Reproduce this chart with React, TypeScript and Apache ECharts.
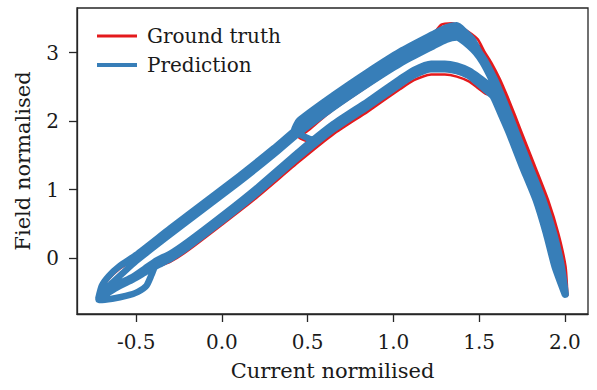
import React, { useEffect, useRef } from "react";
import * as echarts from "echarts";

type P = [number, number];

// Ground truth cycles (current, field)
const truthCycle1: P[] = [
  [0.51, 1.7], [0.45, 1.76], [0.5, 1.86], [0.65, 2.17], [0.85, 2.51], [1.04, 2.83], [1.16, 3.08], [1.23, 3.26], [1.28, 3.41], [1.34, 3.43], [1.39, 3.38],
  [1.49, 3.2], [1.53, 3.02], [1.57, 2.86], [1.62, 2.62], [1.665, 2.36], [1.71, 2.08], [1.75, 1.82], [1.826, 1.34], [1.902, 0.85], [1.962, 0.36], [2.004, -0.12], [2.015, -0.54],
  [1.957, -0.12], [1.907, 0.36], [1.847, 0.85], [1.767, 1.34], [1.69, 1.82], [1.645, 2.08], [1.595, 2.36],
  [1.54, 2.4], [1.49, 2.49], [1.44, 2.58], [1.37, 2.65], [1.3, 2.68], [1.22, 2.68], [1.12, 2.6], [1.04, 2.47], [0.85, 2.14], [0.65, 1.81], [0.45, 1.41], [0.2, 0.88], [0.0, 0.49], [-0.2, 0.11], [-0.3, -0.05], [-0.38, -0.13],
  [-0.45, -0.2], [-0.52, -0.3], [-0.6, -0.4], [-0.66, -0.48], [-0.71, -0.57],
];
const truthCycle2: P[] = [
  [-0.72, -0.59], [-0.7, -0.44], [-0.66, -0.3], [-0.6, -0.16], [-0.5, 0.01], [-0.3, 0.4], [-0.1, 0.78], [0.1, 1.16], [0.3, 1.56], [0.45, 1.88], [0.65, 2.25], [0.85, 2.59], [1.04, 2.89], [1.23, 3.14], [1.31, 3.26], [1.37, 3.32], [1.41, 3.28],
  [1.48, 3.15], [1.52, 3.02], [1.56, 2.86], [1.61, 2.62], [1.655, 2.36], [1.7, 2.08], [1.74, 1.82], [1.816, 1.34], [1.894, 0.85], [1.955, 0.36], [1.998, -0.12], [2.01, -0.53],
  [1.95, -0.12], [1.9, 0.36], [1.84, 0.85], [1.76, 1.34], [1.685, 1.82], [1.64, 2.08], [1.59, 2.36],
  [1.545, 2.44], [1.5, 2.54], [1.44, 2.64], [1.37, 2.71], [1.3, 2.74], [1.22, 2.74], [1.12, 2.65], [1.04, 2.52], [0.85, 2.18], [0.65, 1.85], [0.45, 1.45], [0.2, 0.91], [0.0, 0.51], [-0.2, 0.13], [-0.3, -0.03], [-0.38, -0.12],
  [-0.41, -0.26], [-0.44, -0.41], [-0.49, -0.5], [-0.56, -0.56], [-0.64, -0.6], [-0.71, -0.62],
];

// Prediction cycles
const predCycle1: P[] = [
  [0.53, 1.72], [0.47, 1.79], [0.42, 1.86], [0.45, 2.01], [0.65, 2.38], [0.85, 2.72], [1.04, 3.02], [1.23, 3.27], [1.31, 3.37], [1.37, 3.4], [1.42, 3.3],
  [1.46, 3.2], [1.5, 3.02], [1.54, 2.86], [1.59, 2.62], [1.635, 2.36], [1.68, 2.08], [1.72, 1.82], [1.796, 1.34], [1.874, 0.85], [1.937, 0.36], [1.982, -0.12], [2.005, -0.52],
  [1.96, -0.12], [1.91, 0.36], [1.85, 0.85], [1.77, 1.34], [1.695, 1.82], [1.65, 2.08], [1.6, 2.36],
  [1.55, 2.54], [1.5, 2.64], [1.44, 2.74], [1.37, 2.81], [1.3, 2.84], [1.22, 2.84], [1.12, 2.75], [1.04, 2.62], [0.85, 2.29], [0.65, 1.96], [0.45, 1.56], [0.2, 1.02], [0.0, 0.62], [-0.2, 0.24], [-0.3, 0.07], [-0.38, -0.03],
  [-0.45, -0.15], [-0.52, -0.27], [-0.6, -0.37], [-0.66, -0.46], [-0.71, -0.55],
];
const predCycle2: P[] = [
  [-0.72, -0.58], [-0.7, -0.4], [-0.66, -0.26], [-0.6, -0.12], [-0.5, 0.05], [-0.3, 0.44], [-0.1, 0.82], [0.1, 1.2], [0.3, 1.6], [0.45, 1.92], [0.65, 2.29], [0.85, 2.63], [1.04, 2.93], [1.23, 3.18], [1.31, 3.28], [1.37, 3.31], [1.41, 3.25],
  [1.45, 3.2], [1.49, 3.02], [1.53, 2.86], [1.58, 2.62], [1.625, 2.36], [1.67, 2.08], [1.71, 1.82], [1.786, 1.34], [1.864, 0.85], [1.927, 0.36], [1.975, -0.12], [2.003, -0.53],
  [1.95, -0.12], [1.9, 0.36], [1.84, 0.85], [1.76, 1.34], [1.685, 1.82], [1.64, 2.08], [1.59, 2.36],
  [1.55, 2.5], [1.5, 2.6], [1.44, 2.7], [1.37, 2.77], [1.3, 2.8], [1.22, 2.8], [1.12, 2.71], [1.04, 2.58], [0.85, 2.25], [0.65, 1.92], [0.45, 1.52], [0.2, 0.98], [0.0, 0.58], [-0.2, 0.2], [-0.3, 0.03], [-0.38, -0.07],
  [-0.41, -0.24], [-0.44, -0.4], [-0.49, -0.49], [-0.56, -0.55], [-0.64, -0.59], [-0.71, -0.61],
];
const predCycle3: P[] = [
  [-0.72, -0.6], [-0.69, -0.48], [-0.64, -0.36], [-0.58, -0.22], [-0.5, -0.04], [-0.3, 0.35], [-0.1, 0.73], [0.1, 1.11], [0.3, 1.51], [0.45, 1.83], [0.65, 2.2], [0.85, 2.54], [1.04, 2.84], [1.23, 3.09], [1.31, 3.19], [1.37, 3.22], [1.4, 3.18],
  [1.44, 3.1], [1.48, 3.0], [1.52, 2.86], [1.57, 2.62], [1.615, 2.36], [1.66, 2.08], [1.7, 1.82], [1.776, 1.34], [1.854, 0.85], [1.917, 0.36], [1.965, -0.12], [2.0, -0.53],
  [1.94, -0.12], [1.89, 0.36], [1.83, 0.85], [1.75, 1.34], [1.675, 1.82], [1.63, 2.08], [1.58, 2.36],
  [1.54, 2.45], [1.49, 2.56], [1.44, 2.66], [1.37, 2.73], [1.3, 2.76], [1.22, 2.76], [1.12, 2.67], [1.04, 2.54], [0.85, 2.21], [0.65, 1.88], [0.45, 1.48], [0.2, 0.94], [0.0, 0.54], [-0.2, 0.16], [-0.3, -0.01], [-0.38, -0.11],
  [-0.45, -0.21], [-0.52, -0.31], [-0.6, -0.41], [-0.66, -0.5], [-0.71, -0.57],
];

const xTicks = [-0.5, 0, 0.5, 1, 1.5, 2];
const yTicks = [0, 1, 2, 3];
const xRange = [-0.845, 2.135];
const yRange = [-0.813, 3.652];

const FONT = "DejaVu Serif";
const TEXT = "#1a1a1a";
const FRAME = "#262626";

export default function App() {
  const ref = useRef<HTMLDivElement>(null);
  useEffect(() => {
    if (!ref.current) return;
    const chart = echarts.init(ref.current, undefined, { renderer: "svg" });
    chart.setOption({
      animation: false,
      backgroundColor: "#ffffff",
      grid: {
        left: 77, top: 8, width: 511, height: 306,
        show: true, borderColor: FRAME, borderWidth: 1.3, backgroundColor: "transparent",
      },
      legend: {
        left: 97, top: 26, orient: "vertical", itemWidth: 40, itemHeight: 4, itemGap: 9,
        padding: 0,
        textStyle: { fontFamily: FONT, fontSize: 20, color: TEXT, padding: [0, 0, 0, 5] },
        data: [
          { name: "Ground truth", icon: "path://M0,0h40v3h-40z" },
          { name: "Prediction", icon: "path://M0,0h40v4h-40z" },
        ],
      },
      xAxis: {
        type: "value", min: xRange[0], max: xRange[1],
        name: "Current normilised", nameLocation: "middle", nameGap: 46,
        nameTextStyle: { fontFamily: FONT, fontSize: 21, color: TEXT },
        axisLine: { show: true, onZero: false, lineStyle: { color: FRAME, width: 1.3 } },
        axisTick: { show: true, customValues: xTicks, length: 8, lineStyle: { color: FRAME, width: 1.3 } },
        axisLabel: {
          customValues: xTicks, fontFamily: FONT, fontSize: 20, color: TEXT, margin: 18,
          formatter: (v: number) => v.toFixed(1),
        },
        splitLine: { show: false },
      },
      yAxis: {
        type: "value", min: yRange[0], max: yRange[1],
        name: "Field normalised", nameLocation: "middle", nameGap: 44, nameRotate: 90,
        nameTextStyle: { fontFamily: FONT, fontSize: 21, color: TEXT },
        axisLine: { show: true, onZero: false, lineStyle: { color: FRAME, width: 1.3 } },
        axisTick: { show: true, customValues: yTicks, length: 8, lineStyle: { color: FRAME, width: 1.3 } },
        axisLabel: {
          customValues: yTicks, fontFamily: FONT, fontSize: 20, color: TEXT, margin: 18,
          formatter: (v: number) => String(Math.round(v)),
        },
        splitLine: { show: false },
      },
      series: [
        {
          name: "Ground truth", type: "line", symbol: "none", z: 2, smooth: 0.2,
          data: [...truthCycle1, ...truthCycle2],
          itemStyle: { color: "#e41a1c" },
          lineStyle: { color: "#e41a1c", width: 2.5, join: "round", cap: "round" },
        },
        {
          name: "Prediction", type: "line", symbol: "none", z: 3, smooth: 0.2,
          data: [...predCycle1, ...predCycle2, ...predCycle3],
          itemStyle: { color: "#377eb8" },
          lineStyle: { color: "#377eb8", width: 6.5, join: "round", cap: "round" },
        },
      ],
    });
    return () => chart.dispose();
  }, []);
  return (
    <div
      ref={ref}
      style={{ position: "fixed", left: 0, top: 0, width: 597, height: 390, background: "#fff" }}
    />
  );
}
